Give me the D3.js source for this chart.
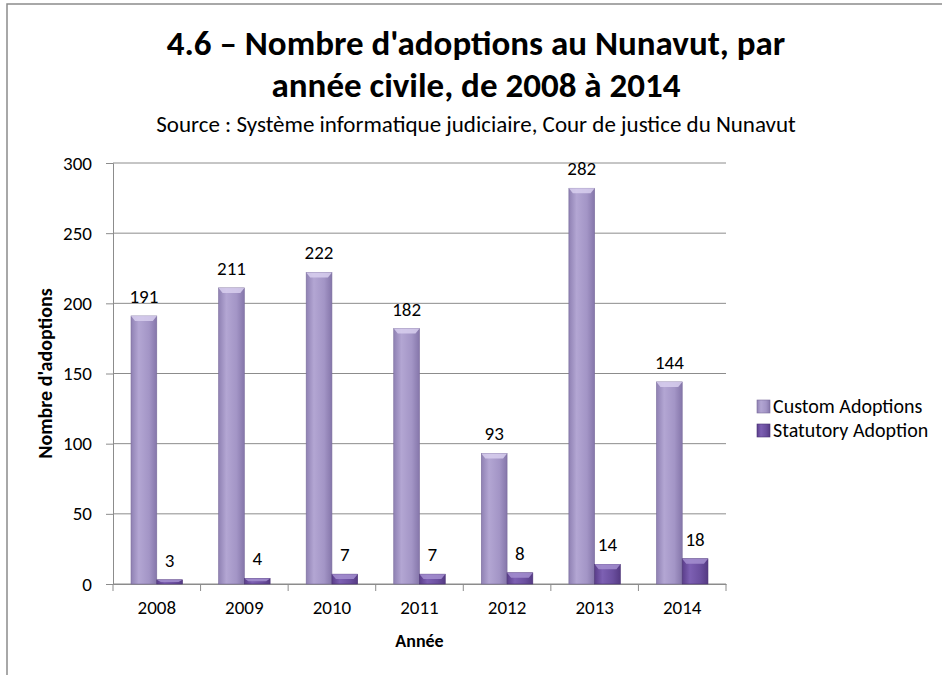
<!DOCTYPE html>
<html>
<head>
<meta charset="utf-8">
<script src="https://cdn.jsdelivr.net/npm/d3@7"></script>
<style>
  body { margin: 0; background: #fff; }
  svg { display: block; font-family: Carlito, Lato, "Open Sans", sans-serif; }
</style>
</head>
<body>
<div id="chart"></div>
<script>
const years = ["2008", "2009", "2010", "2011", "2012", "2013", "2014"];
const customAdoptions = [191, 211, 222, 182, 93, 282, 144];
const statutoryAdoption = [3, 4, 7, 7, 8, 14, 18];
const seriesNames = ["Custom Adoptions", "Statutory Adoption"];
const yTicks = [0, 50, 100, 150, 200, 250, 300];

const width = 942;
const height = 675;
const margin = { top: 163, right: 216, bottom: 91, left: 113 };

const data = years.map((year, i) => ({
  year,
  values: [customAdoptions[i], statutoryAdoption[i]]
}));

const svg = d3.select("#chart")
  .append("svg")
  .attr("width", width)
  .attr("height", height);

// outer frame (top + left edges like the original screenshot)
svg.append("path")
  .attr("d", `M7,${height}V4H${width}`)
  .attr("fill", "none")
  .attr("stroke", "#8c8c8c")
  .attr("stroke-width", 1.5);

const defs = svg.append("defs");
const palettes = [
  { id: "gCustom", stops: ["#8f81b3", "#b3a6d3", "#a395c6", "#8576aa"], top: "#d8cfee" },
  { id: "gStat", stops: ["#5a3d8a", "#7d60b3", "#6b4f9f", "#553a83"], top: "#a58fd0" }
];
palettes.forEach(p => {
  const g = defs.append("linearGradient").attr("id", p.id)
    .attr("x1", 0).attr("x2", 1).attr("y1", 0).attr("y2", 0);
  [0, 0.3, 0.7, 1].forEach((o, i) => g.append("stop").attr("offset", o).attr("stop-color", p.stops[i]));
});

const x = d3.scaleBand()
  .domain(years)
  .range([margin.left, width - margin.right])
  .padding(0);

const xInner = d3.scaleBand()
  .domain([0, 1])
  .range([0, x.bandwidth()])
  .paddingInner(0)
  .paddingOuter(0.7);

const y = d3.scaleLinear()
  .domain([0, 300])
  .range([height - margin.bottom, margin.top]);

// gridlines
svg.append("g")
  .selectAll("line")
  .data(yTicks)
  .join("line")
    .attr("x1", margin.left)
    .attr("x2", width - margin.right)
    .attr("y1", d => y(d))
    .attr("y2", d => y(d))
    .attr("stroke", "#8c8c8c")
    .attr("stroke-width", 1);

// y axis
const yAxis = svg.append("g")
  .attr("transform", `translate(${margin.left},0)`)
  .call(d3.axisLeft(y).tickValues(yTicks).tickSize(7).tickPadding(14));
yAxis.select(".domain").attr("stroke", "#8c8c8c");
yAxis.selectAll(".tick line").attr("stroke", "#8c8c8c");
yAxis.selectAll("text").attr("font-size", 19).attr("fill", "#000")
  .attr("font-family", "Carlito, Lato, sans-serif");

// x axis
const xAxis = svg.append("g")
  .attr("transform", `translate(0,${y(0)})`)
  .call(d3.axisBottom(x).tickSize(0).tickPadding(17));
xAxis.select(".domain").attr("stroke", "#8c8c8c");
xAxis.selectAll("text").attr("font-size", 19).attr("fill", "#000")
  .attr("font-family", "Carlito, Lato, sans-serif");
svg.append("g")
  .selectAll("line")
  .data(years.concat(["end"]))
  .join("line")
    .attr("x1", (d, i) => margin.left + i * x.step())
    .attr("x2", (d, i) => margin.left + i * x.step())
    .attr("y1", y(0))
    .attr("y2", y(0) + 7)
    .attr("stroke", "#8c8c8c");

// bars
const groups = svg.append("g")
  .selectAll("g")
  .data(data)
  .join("g")
    .attr("transform", d => `translate(${x(d.year)},0)`);

const bars = groups.selectAll("g")
  .data(d => d.values.map((v, s) => ({ v, s })))
  .join("g");

bars.append("rect")
  .attr("x", d => xInner(d.s))
  .attr("y", d => y(d.v))
  .attr("width", xInner.bandwidth())
  .attr("height", d => y(0) - y(d.v))
  .attr("fill", d => `url(#${palettes[d.s].id})`)
  .attr("stroke", d => d.s ? "#4a3275" : "#7a6c9c")
  .attr("stroke-width", 0.6);

// bevel on top of each bar
bars.append("path")
  .attr("d", d => {
    const x0 = xInner(d.s), w = xInner.bandwidth(), t = y(d.v);
    const bev = Math.min(5, (y(0) - t) / 2);
    return `M${x0},${t}H${x0 + w}L${x0 + w - 4},${t + bev}H${x0 + 4}Z`;
  })
  .attr("fill", d => palettes[d.s].top)
  .attr("opacity", 0.85);

// data labels
bars.append("text")
  .attr("x", d => xInner(d.s) + xInner.bandwidth() / 2)
  .attr("y", d => y(d.v) - 13)
  .attr("text-anchor", "middle")
  .attr("font-size", 19)
  .attr("fill", "#000")
  .text(d => d.v);

// titles
svg.append("text")
  .attr("x", 476).attr("y", 55)
  .attr("text-anchor", "middle")
  .attr("font-size", 35).attr("font-weight", "bold")
  .text("4.6 – Nombre d'adoptions au Nunavut, par");
svg.append("text")
  .attr("x", 476).attr("y", 97)
  .attr("text-anchor", "middle")
  .attr("font-size", 35).attr("font-weight", "bold")
  .text("année civile, de 2008 à 2014");
svg.append("text")
  .attr("x", 476).attr("y", 132)
  .attr("text-anchor", "middle")
  .attr("font-size", 23)
  .text("Source : Système informatique judiciaire, Cour de justice du Nunavut");

// axis titles
svg.append("text")
  .attr("transform", `translate(52,${(y(0) + y(300)) / 2}) rotate(-90)`)
  .attr("text-anchor", "middle")
  .attr("font-size", 20).attr("font-weight", "bold")
  .text("Nombre d'adoptions");
svg.append("text")
  .attr("x", (margin.left + width - margin.right) / 2)
  .attr("y", 647)
  .attr("text-anchor", "middle")
  .attr("font-size", 18).attr("font-weight", "bold")
  .text("Année");

// legend
const legend = svg.append("g")
  .attr("transform", "translate(757,406)");
const items = legend.selectAll("g")
  .data(seriesNames)
  .join("g")
    .attr("transform", (d, i) => `translate(0,${i * 24})`);
items.append("rect")
  .attr("x", 0).attr("y", -6)
  .attr("width", 13).attr("height", 13)
  .attr("fill", (d, i) => `url(#${palettes[i].id})`)
  .attr("stroke", (d, i) => i ? "#4a3275" : "#7a6c9c")
  .attr("stroke-width", 0.6);
items.append("text")
  .attr("x", 16).attr("y", 7)
  .attr("font-size", 20)
  .text(d => d);
</script>
</body>
</html>
